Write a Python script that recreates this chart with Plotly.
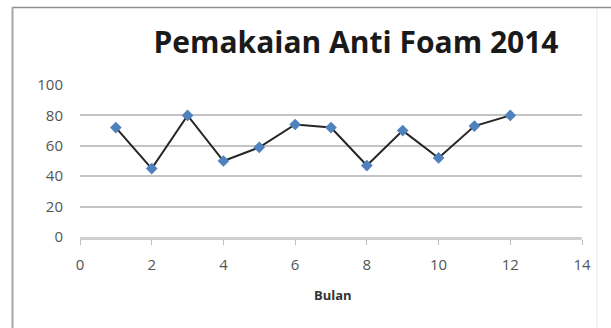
import plotly.graph_objects as go

# Monthly anti-foam usage, 2014
bulan = [1, 2, 3, 4, 5, 6, 7, 8, 9, 10, 11, 12]
pemakaian = [72, 45, 80, 50, 59, 74, 72, 47, 70, 52, 73, 80]

x_ticks = [0, 2, 4, 6, 8, 10, 12, 14]
y_ticks = [0, 20, 40, 60, 80, 100]

W, H = 611, 328
L, R, T, B = 80, 29, 85, 91
pw, ph = W - L - R, H - T - B


def px_x(p):
    return (p - L) / pw


def px_y(p):
    return (H - B - p) / ph


fig = go.Figure()
fig.add_trace(go.Scatter(
    x=bulan, y=pemakaian, mode="lines+markers",
    line=dict(color="#262626", width=2),
    marker=dict(symbol="diamond", size=9, color="#4F81BD",
                line=dict(color="#4F81BD", width=0)),
    showlegend=False,
))

tick_font = dict(family="Open Sans, sans-serif", size=15, color="#555555")


def edge(x0, y0, x1, y1, color, width):
    return dict(type="line", xref="paper", yref="paper",
                x0=px_x(x0), x1=px_x(x1), y0=px_y(y0), y1=px_y(y1),
                line=dict(color=color, width=width), layer="below")


fig.update_layout(
    width=W, height=H,
    margin=dict(l=L, r=R, t=T, b=B),
    paper_bgcolor="white", plot_bgcolor="white",
    title=dict(text="<b>Pemakaian Anti Foam 2014</b>",
               font=dict(family="Open Sans, sans-serif", size=30, color="#1a1a1a"),
               x=356 / W, xanchor="center", y=1 - 42 / H, yanchor="middle",
               xref="container", yref="container"),
    xaxis=dict(range=[0, 14], tickvals=x_ticks, showgrid=False, zeroline=False,
               showline=True, linecolor="#cfcfcf", linewidth=3,
               ticks="outside", ticklen=5, tickcolor="#bfbfbf",
               tickfont=tick_font, ticklabelstandoff=7),
    yaxis=dict(range=[0, 100], tickvals=y_ticks, showgrid=True, gridcolor="#c4c4c4",
               gridwidth=1.5, zeroline=False, showline=False,
               tickfont=tick_font, ticklabelstandoff=16),
    annotations=[dict(text="<b>Bulan</b>", x=px_x(333), y=px_y(295),
                      xref="paper", yref="paper", showarrow=False,
                      xanchor="center", yanchor="middle",
                      font=dict(family="Open Sans, sans-serif", size=13, color="#333333"))],
    shapes=[
        edge(12, 7.5, 611, 7.5, "#8f8f8f", 1.5),
        edge(12.5, 7, 12.5, 340, "#a6a6a6", 2),
        edge(597, 8, 597, 340, "#e6e6e6", 1),
    ],
)

fig.write_html("out.html")
